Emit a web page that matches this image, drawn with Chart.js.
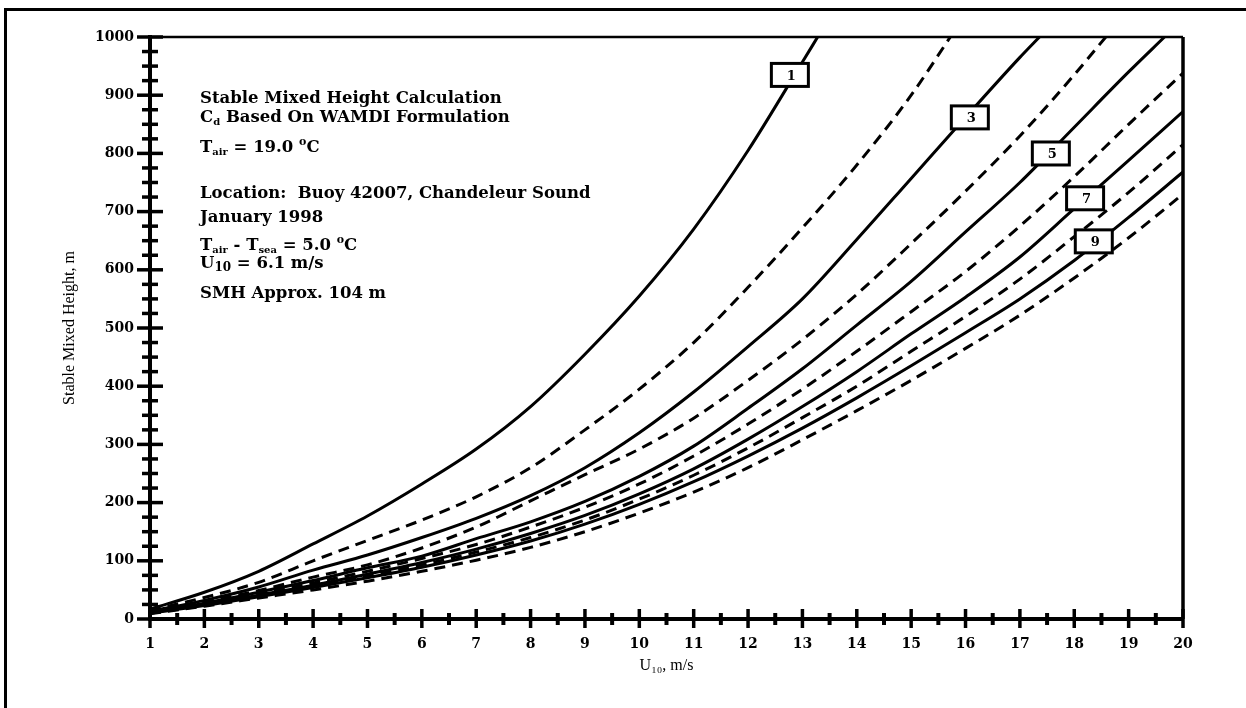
<!DOCTYPE html>
<html>
<head>
<meta charset="utf-8">
<script src="https://cdn.jsdelivr.net/npm/chart.js@4.4.1/dist/chart.umd.min.js"></script>
<style>
  body { margin: 0; background: #fff; }
  #wrap { position: relative; width: 1246px; height: 708px; overflow: hidden; background: #fff; }
  #frame { position: absolute; left: 4px; top: 8px; width: 1300px; height: 800px;
           border-left: 3px solid #000; border-top: 3px solid #000; }
  #chartBox { position: absolute; left: 0; top: 0; width: 1246px; height: 708px; }
  .note { position: absolute; left: 200px; font: bold 16.5px "DejaVu Serif", serif;
          line-height: 18px; white-space: nowrap; color: #000; }
  .note sub { font-size: 10px; vertical-align: -3px; }
  .note sub.big { font-size: 12px; }
  .note sup { font-size: 11px; vertical-align: 7px; }
</style>
</head>
<body>
<div id="wrap">
  <div id="frame"></div>
  <div id="chartBox"><canvas id="smh_chart"></canvas></div>
  <div class="note" style="top:89px">Stable Mixed Height Calculation</div>
  <div class="note" style="top:108px">C<sub>d</sub> Based On WAMDI Formulation</div>
  <div class="note" style="top:133px">T<sub>air</sub> = 19.0 <sup>o</sup>C</div>
  <div class="note" style="top:184px">Location:&nbsp; Buoy 42007, Chandeleur Sound</div>
  <div class="note" style="top:208px">January 1998</div>
  <div class="note" style="top:231px">T<sub>air</sub> - T<sub>sea</sub> = 5.0 <sup>o</sup>C</div>
  <div class="note" style="top:254px">U<sub class="big">10</sub> = 6.1 m/s</div>
  <div class="note" style="top:284px">SMH Approx. 104 m</div>
</div>
<script>
// wind speed U10 (m/s) at which every curve is sampled
const u10 = [1, 2, 3, 4, 5, 6, 7, 8, 9, 10, 11, 12, 13, 14, 15, 16, 17, 18, 19, 20];

// stable mixed height (m), curves 1..10 (odd = solid, even = dashed)
const smh1 = [17, 46, 82, 129, 177, 232, 292, 365, 455, 555, 670, 805, 957];
const smh2 = [15, 37, 63, 100, 135, 170, 210, 260, 325, 395, 475, 570, 672, 780, 900];
const smh3 = [13, 32, 55, 84, 110, 140, 173, 212, 260, 320, 390, 468, 550, 652, 757, 862, 965];
const smh4 = [12, 29, 49, 72, 93, 122, 158, 203, 248, 292, 345, 410, 480, 558, 645, 735, 830, 935];
const smh5 = [12, 27, 46, 66, 88, 108, 138, 167, 202, 245, 297, 362, 430, 505, 580, 665, 750, 845, 940];
const smh6 = [11, 26, 43, 62, 82, 104, 128, 158, 192, 232, 280, 335, 395, 460, 528, 597, 675, 760, 850, 938];
const smh7 = [11, 25, 41, 58, 77, 97, 120, 147, 178, 215, 258, 309, 365, 425, 490, 553, 622, 705, 788, 872];
const smh8 = [10, 24, 40, 56, 74, 93, 115, 140, 170, 206, 247, 294, 346, 400, 460, 520, 584, 657, 733, 815];
const smh9 = [10, 23, 38, 54, 71, 89, 110, 134, 163, 197, 236, 280, 328, 380, 435, 492, 550, 616, 690, 768];
const smh10 = [9, 22, 36, 50, 65, 82, 101, 123, 150, 182, 218, 260, 308, 358, 410, 465, 522, 586, 655, 730];

// U10 where a curve leaves the top of the plot (1000 m), null if it stays inside
const topCross = [13.28, 15.72, 17.36, 18.58, 19.66, null, null, null, null, null];

// boxed curve labels
const labelText = ["1", "3", "5", "7", "9"];
const labelU = [12.76, 16.07, 17.56, 18.19, 18.35];
const labelH = [934, 861, 799, 722, 648];

const yMax = 1000;
const allSeries = [smh1, smh2, smh3, smh4, smh5, smh6, smh7, smh8, smh9, smh10];

const datasets = allSeries.map((s, i) => {
  const pts = s.map((v, k) => ({ x: u10[k], y: v }));
  if (topCross[i] !== null) {
    pts.push({ x: topCross[i], y: yMax });
  }
  return {
    label: "Curve " + (i + 1),
    data: pts,
    borderColor: "#000",
    borderWidth: 3,
    borderDash: i % 2 === 1 ? [11, 7] : [],
    pointRadius: 0,
    cubicInterpolationMode: "monotone",
    fill: false,
  };
});

// top/right frame of the plot plus ticks that cross the axes
const axisTicks = {
  id: "axisTicks",
  afterDraw(chart) {
    const { ctx, chartArea, scales } = chart;
    const x = scales.x;
    const y = scales.y;
    ctx.save();
    ctx.strokeStyle = "#000";
    ctx.lineWidth = 2.5;
    ctx.beginPath();
    ctx.moveTo(chartArea.left, chartArea.top);
    ctx.lineTo(chartArea.right, chartArea.top);
    ctx.stroke();
    ctx.lineWidth = 3.5;
    ctx.beginPath();
    ctx.moveTo(chartArea.right, chartArea.top);
    ctx.lineTo(chartArea.right, chartArea.bottom);
    ctx.stroke();

    const ax = x.getPixelForValue(1);
    for (let v = 0; v <= yMax; v += 25) {
      const py = y.getPixelForValue(v);
      const half = v % 100 === 0 ? 13 : 8;
      ctx.beginPath();
      ctx.moveTo(ax - half, py);
      ctx.lineTo(ax + half, py);
      ctx.stroke();
    }
    const ay = y.getPixelForValue(0);
    for (let u = 1; u <= 20; u += 0.5) {
      const px = x.getPixelForValue(u);
      const major = Number.isInteger(u);
      ctx.lineWidth = major ? 3.5 : 4;
      ctx.beginPath();
      ctx.moveTo(px, ay - (major ? 10 : 6));
      ctx.lineTo(px, ay + (major ? 9 : 6));
      ctx.stroke();
    }
    ctx.restore();
  },
};

const curveLabels = {
  id: "curveLabels",
  afterDatasetsDraw(chart) {
    const { ctx, scales } = chart;
    ctx.save();
    ctx.font = "bold 13px 'DejaVu Serif', serif";
    ctx.textAlign = "center";
    ctx.textBaseline = "middle";
    labelText.forEach((t, i) => {
      const px = scales.x.getPixelForValue(labelU[i]);
      const py = scales.y.getPixelForValue(labelH[i]);
      ctx.fillStyle = "#fff";
      ctx.fillRect(px - 18, py - 12, 37, 23);
      ctx.strokeStyle = "#000";
      ctx.lineWidth = 3;
      ctx.strokeRect(px - 18, py - 12, 37, 23);
      ctx.fillStyle = "#000";
      ctx.fillText(t, px + 2, py + 1);
    });
    ctx.restore();
  },
};

const tickFont = { family: "'DejaVu Serif', serif", weight: "bold", size: 14 };

new Chart(document.getElementById("smh_chart"), {
  type: "line",
  data: { datasets },
  plugins: [curveLabels, axisTicks],
  options: {
    responsive: true,
    maintainAspectRatio: false,
    animation: false,
    layout: { padding: { left: 40, top: 37, right: 63, bottom: 20 } },
    plugins: {
      legend: { display: false },
      tooltip: { enabled: false },
    },
    scales: {
      x: {
        type: "linear",
        min: 1,
        max: 20,
        afterFit(scale) {
          scale.height = 69;
        },
        grid: { display: false, drawTicks: false },
        border: { display: true, color: "#000", width: 4 },
        ticks: {
          stepSize: 1,
          padding: 17,
          color: "#000",
          font: tickFont,
          maxRotation: 0,
        },
        title: {
          display: true,
          text: "U\u2081\u2080, m/s",
          color: "#000",
          font: { family: "'Liberation Serif', serif", size: 16 },
          padding: { top: 0, bottom: 13 },
        },
      },
      y: {
        min: 0,
        max: yMax,
        afterFit(scale) {
          scale.width = 110;
        },
        grid: { display: false, drawTicks: false },
        border: { display: true, color: "#000", width: 4 },
        ticks: {
          stepSize: 100,
          padding: 16,
          color: "#000",
          font: tickFont,
          callback: (v) => String(v),
        },
        title: {
          display: true,
          text: "Stable Mixed Height, m",
          color: "#000",
          font: { family: "'Liberation Serif', serif", size: 16 },
          padding: { top: 20, bottom: 0 },
        },
      },
    },
  },
});
</script>
</body>
</html>
